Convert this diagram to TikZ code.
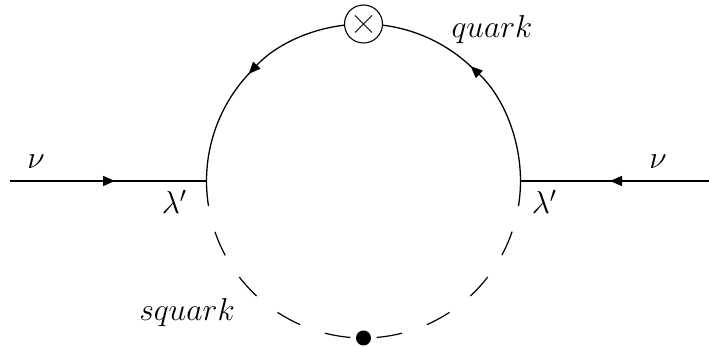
\documentclass[tikz,border=0pt]{standalone}
\usepackage{tikz}
\usetikzlibrary{arrows.meta}
\tikzset{
  fermion/.style={black, line width=0.65pt},
  sfermion/.style={black, line width=0.6pt},
  flowtip/.style={-{Triangle[length=6pt, width=5pt]}},
  lbl/.style={inner sep=0pt, scale=1.1, font=\Large},
}
\begin{document}
\begin{tikzpicture}[x=0.5pt, y=0.5pt]
\useasboundingbox (0,0) rectangle (709,347);
\coordinate (loop) at (363.5,166);
\coordinate (nuleft) at (10,166);
\coordinate (nuright) at (709,166);
\coordinate (tipleft) at (115,166);
\coordinate (tipright) at (610,166);
\coordinate (joinleft) at (108,166);
\coordinate (joinright) at (617,166);
\coordinate (vleft) at (206.5,166);
\coordinate (vright) at (520.5,166);
\coordinate (top) at (363.5,323);
\coordinate (bottom) at (363.5,9);
\draw[fermion] (joinleft) -- (vleft);
\draw[fermion, flowtip] (nuleft) -- (tipleft);
\draw[fermion] (joinright) -- (vright);
\draw[fermion, flowtip] (nuright) -- (tipright);
% solid half of the loop
\draw[fermion] (vleft) arc (180:189.2:157);
\draw[fermion] (vright) arc (0:-9.2:157);
\draw[fermion] (top) arc (90:45:157);
\draw[fermion, flowtip] (vright) arc (0:47:157);
\draw[fermion] (vleft) arc (180:135:157);
\draw[fermion, flowtip] (top) arc (90:137:157);
% dashed half of the loop
\foreach \a in {198.9,217.7,236.8,255.8,274.8,293.8,312.9,331.8} {
  \draw[sfermion] (loop) ++(\a:157) arc (\a:\a+9.4:157);
}
\node[circle, draw, fill=white, line width=0.55pt, minimum size=19pt, inner sep=0pt] (ins) at (top) {};
\draw[line width=0.45pt] (ins) ++(-8.5,8.5) -- ++(17,-17);
\draw[line width=0.45pt] (ins) ++(8.5,8.5) -- ++(-17,-17);
\node[circle, fill=black, minimum size=7.5pt, inner sep=0pt] (mass) at (bottom) {};
\node[lbl] (nuone) at (36,185) {$\nu$};
\node[lbl] (nutwo) at (658,185) {$\nu$};
\node[lbl] (lamone) at (174.5,145) {$\lambda'$};
\node[lbl] (lamtwo) at (544.5,145) {$\lambda'$};
\node[lbl] (quark) at (492,317) {$quark$};
\node[lbl] (squark) at (187,34) {$squark$};
\end{tikzpicture}
\end{document}
